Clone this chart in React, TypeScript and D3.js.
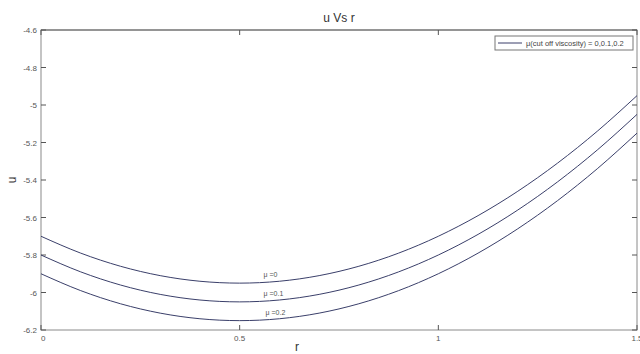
import React, { useEffect, useRef } from "react";
import * as d3 from "d3";

const rValues = [0, 0.1, 0.2, 0.3, 0.4, 0.5, 0.6, 0.7, 0.8, 0.9, 1.0, 1.1, 1.2, 1.3, 1.4, 1.5];
const uMu0 = [-5.7, -5.79, -5.86, -5.91, -5.94, -5.95, -5.94, -5.91, -5.86, -5.79, -5.7, -5.59, -5.46, -5.31, -5.14, -4.95];
const uMu01 = [-5.8, -5.89, -5.96, -6.01, -6.04, -6.05, -6.04, -6.01, -5.96, -5.89, -5.8, -5.69, -5.56, -5.41, -5.24, -5.05];
const uMu02 = [-5.9, -5.99, -6.06, -6.11, -6.14, -6.15, -6.14, -6.11, -6.06, -5.99, -5.9, -5.79, -5.66, -5.51, -5.34, -5.15];
const seriesLabels = ["\u03bc =0", "\u03bc =0.1", "\u03bc =0.2"];
const labelAt = [{ r: 0.56, u: -5.915 }, { r: 0.56, u: -6.018 }, { r: 0.565, u: -6.12 }];
const xTicks = [0, 0.5, 1, 1.5];
const yTicks = [-6.2, -6, -5.8, -5.6, -5.4, -5.2, -5, -4.8, -4.6];

export default function App() {
  const svgRef = useRef<SVGSVGElement>(null);

  useEffect(() => {
    const width = 640;
    const height = 354;
    const left = 41, right = 637, top = 30, bottom = 330;

    const x = d3.scaleLinear().domain([0, 1.5]).range([left, right]);
    const y = d3.scaleLinear().domain([-6.2, -4.6]).range([bottom, top]);

    const svg = d3.select(svgRef.current).attr("width", width).attr("height", height);
    svg.selectAll("*").remove();
    svg.append("rect").attr("width", width).attr("height", height).attr("fill", "#fff");

    const font = "Liberation Sans, Arial, sans-serif";

    // axis box
    svg.append("rect")
      .attr("x", left).attr("y", top)
      .attr("width", right - left).attr("height", bottom - top)
      .attr("fill", "none").attr("stroke", "#8a8a8a").attr("stroke-width", 1);
    svg.append("line").attr("x1", left).attr("x2", right).attr("y1", top).attr("y2", top)
      .attr("stroke", "#666");

    const ticks = svg.append("g").attr("stroke", "#555").attr("stroke-width", 1);
    xTicks.forEach((t) => {
      ticks.append("line").attr("x1", x(t)).attr("x2", x(t)).attr("y1", bottom).attr("y2", bottom - 5);
      ticks.append("line").attr("x1", x(t)).attr("x2", x(t)).attr("y1", top).attr("y2", top + 5);
    });
    yTicks.forEach((t) => {
      ticks.append("line").attr("x1", left).attr("x2", left + 5).attr("y1", y(t)).attr("y2", y(t));
      ticks.append("line").attr("x1", right).attr("x2", right - 5).attr("y1", y(t)).attr("y2", y(t));
    });

    svg.append("g").selectAll("text").data(xTicks).join("text")
      .attr("x", (d) => x(d)).attr("y", bottom + 11)
      .attr("text-anchor", (d) => (d === 0 ? "start" : "middle"))
      .attr("font-family", font).attr("font-size", 8).attr("fill", "#555")
      .text((d) => String(d));

    svg.append("g").selectAll("text").data(yTicks).join("text")
      .attr("x", left - 4).attr("y", (d) => y(d) + 3)
      .attr("text-anchor", "end")
      .attr("font-family", font).attr("font-size", 8).attr("fill", "#555")
      .text((d) => String(d));

    const line = d3.line<number>().x((d, i) => x(rValues[i])).y((d) => y(d)).curve(d3.curveMonotoneX);
    [uMu0, uMu01, uMu02].forEach((s) => {
      svg.append("path").attr("d", line(s)).attr("fill", "none")
        .attr("stroke", "#3a3f6a").attr("stroke-width", 1);
    });

    seriesLabels.forEach((lab, i) => {
      svg.append("text").attr("x", x(labelAt[i].r)).attr("y", y(labelAt[i].u))
        .attr("font-family", font).attr("font-size", 7).attr("fill", "#555")
        .text(lab);
    });

    // legend
    svg.append("rect").attr("x", 495).attr("y", 36).attr("width", 138).attr("height", 14)
      .attr("fill", "#fff").attr("stroke", "#777").attr("stroke-width", 1);
    svg.append("line").attr("x1", 498).attr("x2", 522).attr("y1", 43).attr("y2", 43)
      .attr("stroke", "#3a3f6a").attr("stroke-width", 1);
    svg.append("text").attr("x", 526).attr("y", 46)
      .attr("font-family", font).attr("font-size", 7.5).attr("fill", "#444")
      .text("\u03bc(cut off viscosity) = 0,0.1,0.2");

    // titles
    svg.append("text").attr("x", 339).attr("y", 22).attr("text-anchor", "middle")
      .attr("font-family", font).attr("font-size", 12).attr("fill", "#333").text("u Vs r");
    svg.append("text").attr("x", 297).attr("y", 351).attr("text-anchor", "middle")
      .attr("font-family", font).attr("font-size", 12).attr("fill", "#333").text("r");
    svg.append("text").attr("transform", "translate(16,180) rotate(-90)").attr("text-anchor", "middle")
      .attr("font-family", font).attr("font-size", 12).attr("fill", "#333").text("u");
  }, []);

  return <svg ref={svgRef} style={{ position: "absolute", left: 0, top: 0 }}></svg>;
}
